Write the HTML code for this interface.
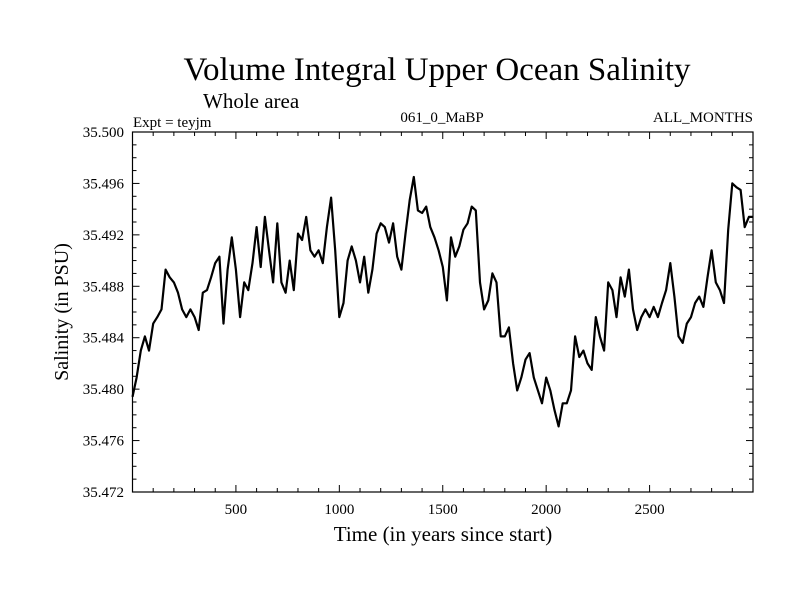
<!DOCTYPE html>
<html><head><meta charset="utf-8"><style>
body{margin:0;background:#fff}
svg text{font-family:"Liberation Serif",serif;fill:#000}
</style></head><body>
<svg id="c" width="800" height="600">
<text x="437" y="80" font-size="33" text-anchor="middle">Volume Integral Upper Ocean Salinity</text>
<text x="203" y="108" font-size="21">Whole area</text>
<text x="133" y="127" font-size="15">Expt = teyjm</text>
<text x="442" y="122" font-size="15" text-anchor="middle">061_0_MaBP</text>
<text x="753" y="122" font-size="15" text-anchor="end">ALL_MONTHS</text>
<text x="443" y="541" font-size="21" text-anchor="middle">Time (in years since start)</text>
<text transform="translate(68,312) rotate(-90)" font-size="20" text-anchor="middle">Salinity (in PSU)</text>
<g id="ticks"></g>
<path id="line" fill="none" stroke="#000" stroke-width="2.2" stroke-linejoin="round"/>
<rect x="132.5" y="132" width="620.5" height="360" fill="none" stroke="#000" stroke-width="1.2"/>
</svg>
<script>
const years=[];for(let i=0;i<=150;i++)years.push(i*20);
const salinity=[35.4794,35.4809,35.4830,35.4841,35.4830,35.4851,35.4856,35.4862,35.4893,35.4887,35.4883,35.4875,35.4862,35.4856,35.4862,35.4856,35.4846,35.4875,35.4877,35.4887,35.4898,35.4903,35.4851,35.4893,35.4918,35.4893,35.4856,35.4883,35.4877,35.4898,35.4926,35.4895,35.4934,35.4908,35.4883,35.4929,35.4883,35.4875,35.4900,35.4877,35.4921,35.4916,35.4934,35.4908,35.4903,35.4908,35.4898,35.4926,35.4949,35.4908,35.4856,35.4867,35.4900,35.4911,35.4900,35.4883,35.4903,35.4875,35.4893,35.4921,35.4929,35.4926,35.4914,35.4929,35.4903,35.4893,35.4921,35.4947,35.4965,35.4939,35.4937,35.4942,35.4926,35.4918,35.4908,35.4895,35.4869,35.4918,35.4903,35.4911,35.4924,35.4929,35.4942,35.4939,35.4883,35.4862,35.4869,35.4890,35.4883,35.4841,35.4841,35.4848,35.4820,35.4799,35.4809,35.4823,35.4828,35.4809,35.4799,35.4789,35.4809,35.4799,35.4784,35.4771,35.4789,35.4789,35.4799,35.4841,35.4825,35.4830,35.4820,35.4815,35.4856,35.4841,35.4830,35.4883,35.4877,35.4856,35.4887,35.4872,35.4893,35.4862,35.4846,35.4856,35.4862,35.4856,35.4864,35.4856,35.4867,35.4877,35.4898,35.4872,35.4841,35.4836,35.4851,35.4856,35.4867,35.4872,35.4864,35.4887,35.4908,35.4883,35.4877,35.4867,35.4924,35.4960,35.4957,35.4955,35.4926,35.4934,35.4934];
const xTickLabels=[500,1000,1500,2000,2500];
const yTickLabels=["35.472","35.476","35.480","35.484","35.488","35.492","35.496","35.500"];
const X0=132.5,X1=753,Y0=492,Y1=132,XMIN=0,XMAX=3000,YMIN=35.472,YMAX=35.500;
const sx=v=>X0+(v-XMIN)/(XMAX-XMIN)*(X1-X0);
const sy=v=>Y0-(v-YMIN)/(YMAX-YMIN)*(Y0-Y1);
const NS="http://www.w3.org/2000/svg",g=document.getElementById('ticks');
function ln(x1,y1,x2,y2,n){const l=document.createElementNS(NS,'line');l.setAttribute('x1',x1);l.setAttribute('y1',y1);l.setAttribute('x2',x2);l.setAttribute('y2',y2);l.setAttribute('stroke','#000');


g.appendChild(l);}
function tx(x,y,s,a,n){const t=document.createElementNS(NS,'text');t.setAttribute('x',x);t.setAttribute('y',y);t.setAttribute('font-size','15');t.setAttribute('text-anchor',a);t.textContent=s;


g.appendChild(t);}
for(let v=100;v<3000;v+=100){const x=sx(v),L=v%500===0?7:4;ln(x,Y0,x,Y0-L,'x-tick');ln(x,Y1,x,Y1+L,'x-tick-top');}
xTickLabels.forEach(v=>tx(sx(v),514,String(v),'middle','x-tick-label'));
for(let k=0;k<=28;k++){const v=YMIN+k*0.001,y=sy(v),L=k%4===0?7:4;ln(X0,y,X0+L,y,'y-tick');ln(X1,y,X1-L,y,'y-tick-right');}
yTickLabels.forEach(s=>tx(124,sy(parseFloat(s))+5,s,'end','y-tick-label'));
let d='';salinity.forEach((v,i)=>{d+=(i?'L':'M')+sx(years[i]).toFixed(1)+' '+sy(v).toFixed(1);});
document.getElementById('line').setAttribute('d',d);
</script>
</body></html>
